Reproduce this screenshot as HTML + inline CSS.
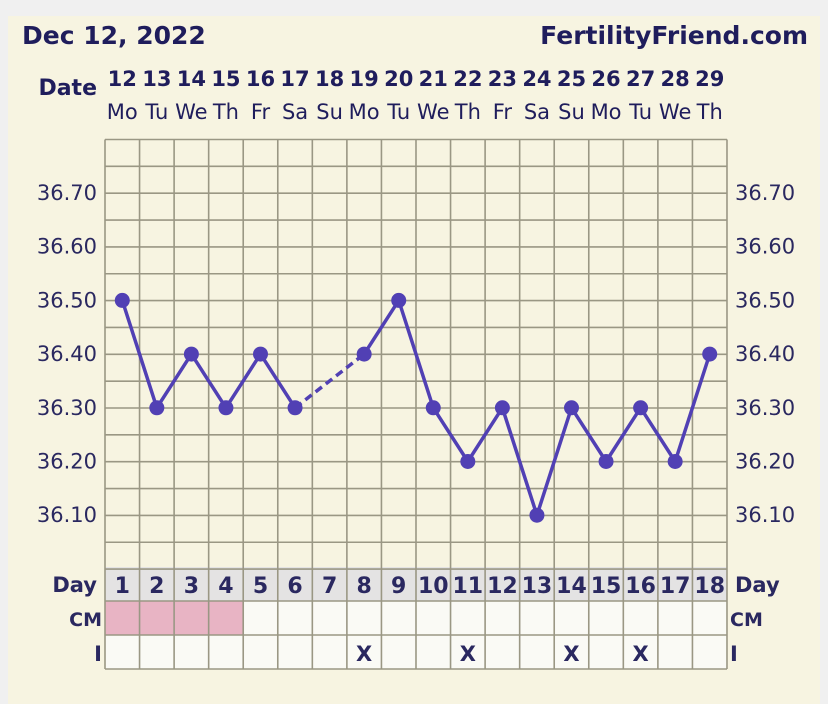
<!DOCTYPE html><html><head><style>body{margin:0;background:#f0f0f0}svg{display:block}</style></head><body>
<svg width="828" height="704" xmlns="http://www.w3.org/2000/svg" font-family="'DejaVu Sans','Liberation Sans',sans-serif">
<rect x="8" y="16" width="812" height="688" fill="#f7f4e1"/>
<g fill="#1f1d5c" font-weight="bold">
<text x="22" y="44" font-size="25">Dec 12, 2022</text>
<text x="808" y="44" font-size="25" text-anchor="end">FertilityFriend.com</text>
<text x="97" y="95" font-size="22" text-anchor="end">Date</text>
</g>
<g id="hdr"></g>
<rect x="105" y="139.5" width="622" height="428" fill="#f7f4e1"/>
<rect x="105" y="567" width="622" height="34" fill="#e4e3e3"/>
<rect x="105" y="601" width="622" height="68" fill="#fafaf5"/>
<rect x="105" y="601" width="138" height="34" fill="#e8b4c4"/>
<g id="grid" stroke="#9a9784" stroke-width="1.6"></g>
<g id="lab" fill="#2a2860" font-size="21"></g>
<g id="ser"></g>
<script>
var ns="http://www.w3.org/2000/svg";
function el(p,t,a,tx){var e=document.createElementNS(ns,t);for(var k in a)e.setAttribute(k,a[k]);if(tx!=null)e.textContent=tx;document.getElementById(p).appendChild(e);return e;}
var W=34.555,L=105,R=727;
var dates=[12,13,14,15,16,17,18,19,20,21,22,23,24,25,26,27,28,29];
var dw=["Mo","Tu","We","Th","Fr","Sa","Su","Mo","Tu","We","Th","Fr","Sa","Su","Mo","Tu","We","Th"];
for(var i=0;i<18;i++){var cx=L+W*(i+0.5);
el("hdr","text",{x:cx,y:86,"text-anchor":"middle","font-size":21,"font-weight":"bold",fill:"#1f1d5c"},dates[i]);
el("hdr","text",{x:cx,y:119,"text-anchor":"middle","font-size":21,fill:"#1f1d5c"},dw[i]);
el("lab","text",{x:cx,y:593,"text-anchor":"middle","font-weight":"bold","font-size":22},i+1);
}
function Y(t){return 193+(36.7-t)*537;}
for(var k=0;k<=16;k++){var y=139.5+k*26.85;el("grid","line",{x1:L,x2:R,y1:y,y2:y});}
[601,635,669].forEach(function(y){el("grid","line",{x1:L,x2:R,y1:y,y2:y});});
for(var i=0;i<=18;i++){var x=L+i*W;el("grid","line",{x1:x,x2:x,y1:139.5,y2:669});}
for(var t=1;t<=7;t++){var v=36+t/10,y=Y(v)+7;
el("lab","text",{x:97,y:y,"text-anchor":"end"},v.toFixed(2));
el("lab","text",{x:735,y:y},v.toFixed(2));}
el("lab","text",{x:97,y:592,"text-anchor":"end","font-weight":"bold"},"Day");
el("lab","text",{x:735,y:592,"font-weight":"bold"},"Day");
el("lab","text",{x:102,y:626,"text-anchor":"end","font-weight":"bold","font-size":19},"CM");
el("lab","text",{x:730,y:626,"font-weight":"bold","font-size":19},"CM");
el("lab","text",{x:102,y:661,"text-anchor":"end","font-weight":"bold"},"I");
el("lab","text",{x:730,y:661,"font-weight":"bold"},"I");
[8,11,14,16].forEach(function(d){el("lab","text",{x:L+W*(d-0.5),y:661,"text-anchor":"middle","font-weight":"bold"},"X");});
var T=[36.5,36.3,36.4,36.3,36.4,36.3,null,36.4,36.5,36.3,36.2,36.3,36.1,36.3,36.2,36.3,36.2,36.4];
var c="#5140b4";
function P(i){return [L+W*(i+0.5),Y(T[i])];}
var a="",b="";for(var i=0;i<6;i++)a+=(i?"L":"M")+P(i).join(",");
for(var i=7;i<18;i++)b+=(i>7?"L":"M")+P(i).join(",");
el("ser","path",{d:a,stroke:c,"stroke-width":3.5,fill:"none","stroke-linejoin":"round"});
el("ser","path",{d:b,stroke:c,"stroke-width":3.5,fill:"none","stroke-linejoin":"round"});
el("ser","path",{d:"M"+P(5).join(",")+"L"+P(7).join(","),stroke:c,"stroke-width":3.5,fill:"none","stroke-dasharray":"8,5"});
for(var i=0;i<18;i++)if(T[i]!=null){var p=P(i);el("ser","circle",{cx:p[0],cy:p[1],r:7.5,fill:c});}
</script>
</svg></body></html>
